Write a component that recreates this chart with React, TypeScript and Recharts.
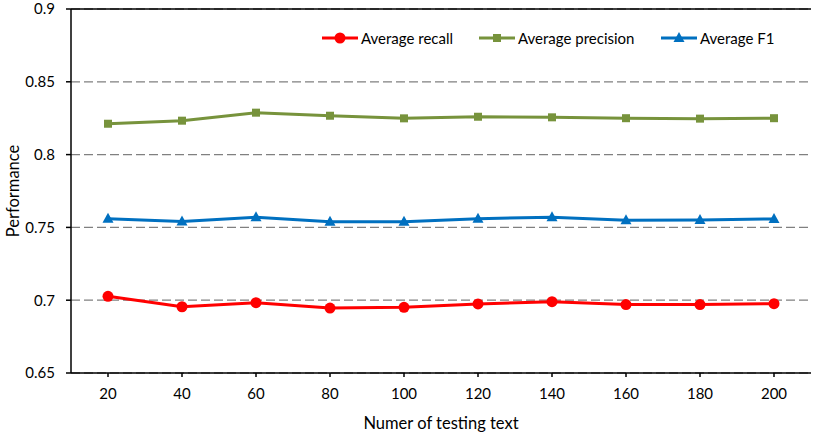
import React from "react";
import {
  CartesianGrid,
  Line,
  LineChart,
  ReferenceLine,
  XAxis,
  YAxis,
} from "recharts";

// Values.
const testingTexts = [20, 40, 60, 80, 100, 120, 140, 160, 180, 200];
const avgRecall = [0.7027, 0.6955, 0.6983, 0.6946, 0.6951, 0.6974, 0.699, 0.697, 0.697, 0.6976];
const avgPrecision = [0.8212, 0.8233, 0.8288, 0.8267, 0.8249, 0.826, 0.8256, 0.825, 0.8247, 0.825];
const avgF1 = [0.756, 0.7541, 0.7569, 0.7539, 0.7539, 0.756, 0.757, 0.7549, 0.7551, 0.7558];
const yTicks = [0.65, 0.7, 0.75, 0.8, 0.85, 0.9];

const FONT = "Lato, 'Open Sans', sans-serif";
const RED = "#ff0000";
const GREEN = "#77933c";
const BLUE = "#0070c0";

const rows = testingTexts.map((n, i) => ({
  n,
  recall: avgRecall[i],
  precision: avgPrecision[i],
  f1: avgF1[i],
}));

type Shape = "circle" | "square" | "triangle";

function Marker({ cx, cy, shape, color }: { cx: number; cy: number; shape: Shape; color: string }) {
  if (shape === "circle") return <circle cx={cx} cy={cy} r={5.5} fill={color} />;
  if (shape === "square")
    return <rect x={cx - 4} y={cy - 4} width={8} height={8} fill={color} />;
  return (
    <polygon
      points={`${cx},${cy - 6} ${cx + 5.5},${cy + 4} ${cx - 5.5},${cy + 4}`}
      fill={color}
    />
  );
}

function dotFor(shape: Shape, color: string) {
  return (props: any) => (
    <Marker key={`${shape}-${props.index}`} cx={props.cx} cy={props.cy} shape={shape} color={color} />
  );
}

const legendItems: { label: string; shape: Shape; color: string; x: number }[] = [
  { label: "Average recall", shape: "circle", color: RED, x: 322 },
  { label: "Average precision", shape: "square", color: GREEN, x: 479 },
  { label: "Average F1", shape: "triangle", color: BLUE, x: 661 },
];

// Legend sits inside the plot area, so it is drawn as an overlay and
// doesn't take space away from the plot.
function ChartLegend() {
  return (
    <svg
      width={817}
      height={60}
      style={{ position: "absolute", left: 0, top: 26, pointerEvents: "none" }}
    >
      {legendItems.map((item) => (
        <g key={item.label}>
          <line x1={item.x} x2={item.x + 36} y1={12} y2={12} stroke={item.color} strokeWidth={3} />
          <Marker cx={item.x + 18} cy={12} shape={item.shape} color={item.color} />
          <text
            x={item.x + 39}
            y={12}
            dominantBaseline="central"
            fontFamily={FONT}
            fontSize={15}
            fill="#000"
          >
            {item.label}
          </text>
        </g>
      ))}
    </svg>
  );
}

export default function App() {
  return (
    <div style={{ position: "absolute", left: 0, top: 0, width: 817, height: 432, background: "#fff" }}>
      <LineChart
        width={817}
        height={432}
        data={rows}
        margin={{ top: 9, right: 6, left: 0, bottom: 0 }}
        style={{ fontFamily: FONT }}
      >
        <CartesianGrid vertical={false} stroke="#808080" strokeDasharray="9 4" strokeWidth={1.3} />
        <XAxis
          dataKey="n"
          height={59}
          padding={{ left: 37, right: 37 }}
          stroke="#000"
          strokeWidth={1.5}
          tickSize={4}
          tickMargin={11}
          tick={{ fill: "#000", fontSize: 15 }}
          label={{
            value: "Numer of testing text",
            position: "insideBottom",
            offset: 3,
            fill: "#000",
            fontSize: 16.5,
          }}
        />
        <YAxis
          domain={[0.65, 0.9]}
          ticks={yTicks}
          width={71}
          stroke="#000"
          strokeWidth={1.5}
          tickSize={5}
          tickMargin={11}
          tick={{ fill: "#000", fontSize: 15 }}
          label={{
            value: "Performance",
            angle: -90,
            position: "insideLeft",
            offset: 13,
            fill: "#000",
            fontSize: 16.5,
            style: { textAnchor: "middle" },
          }}
        />
        <YAxis
          yAxisId="right"
          orientation="right"
          width={0}
          domain={[0, 1]}
          tick={false}
          tickLine={false}
          stroke="#000"
          strokeWidth={1.5}
        />
        <ReferenceLine y={0.9} stroke="#000" strokeWidth={1.5} />
        <Line
          dataKey="recall"
          stroke={RED}
          strokeWidth={3}
          dot={dotFor("circle", RED)}
          isAnimationActive={false}
        />
        <Line
          dataKey="precision"
          stroke={GREEN}
          strokeWidth={3}
          dot={dotFor("square", GREEN)}
          isAnimationActive={false}
        />
        <Line
          dataKey="f1"
          stroke={BLUE}
          strokeWidth={3}
          dot={dotFor("triangle", BLUE)}
          isAnimationActive={false}
        />
      </LineChart>
      <ChartLegend />
    </div>
  );
}
